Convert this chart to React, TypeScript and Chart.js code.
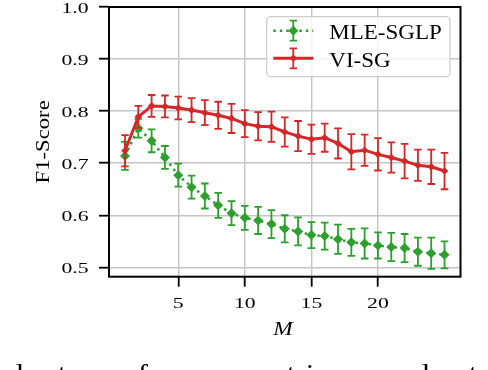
import React, { useEffect, useRef } from "react";
import { Chart, registerables } from "chart.js";

Chart.register(...registerables);

// ---- data ----
const xValues = [1, 2, 3, 4, 5, 6, 7, 8, 9, 10, 11, 12, 13, 14, 15, 16, 17, 18, 19, 20, 21, 22, 23, 24, 25];
const mleMean = [0.714, 0.767, 0.743, 0.711, 0.677, 0.654, 0.637, 0.619, 0.604, 0.595, 0.590, 0.583, 0.574, 0.569, 0.562, 0.560, 0.554, 0.548, 0.546, 0.542, 0.539, 0.537, 0.530, 0.527, 0.524];
const mleErr = [0.027, 0.018, 0.022, 0.022, 0.022, 0.022, 0.024, 0.024, 0.023, 0.023, 0.026, 0.027, 0.026, 0.027, 0.025, 0.026, 0.028, 0.026, 0.029, 0.025, 0.027, 0.027, 0.027, 0.030, 0.026];
const viMean = [0.724, 0.789, 0.810, 0.809, 0.806, 0.802, 0.797, 0.792, 0.786, 0.776, 0.771, 0.770, 0.760, 0.752, 0.746, 0.749, 0.738, 0.722, 0.725, 0.717, 0.711, 0.704, 0.696, 0.693, 0.685];
const viErr = [0.030, 0.021, 0.021, 0.021, 0.022, 0.023, 0.024, 0.026, 0.028, 0.026, 0.027, 0.029, 0.028, 0.029, 0.028, 0.027, 0.029, 0.034, 0.030, 0.031, 0.029, 0.033, 0.030, 0.033, 0.035];
const xTickValues = [5, 10, 15, 20];
const yTickValues = [0.5, 0.6, 0.7, 0.8, 0.9, 1.0];
const seriesLabels = ["MLE-SGLP", "VI-SG"];
const xAxisTitle = "M";
const yAxisTitle = "F1-Score";
const captionFragments = ["l", "t", "f", "t", "i", "l", "t"];
const captionFragmentX = [20, 62, 143, 291, 310, 426, 473];

const GREEN = "#2ca02c";
const RED = "#d62728";
const SERIF = '"Liberation Serif", "DejaVu Serif", serif';

function stretchText(ctx: CanvasRenderingContext2D, text: string, x: number, y: number, font: string, sx: number, align: CanvasTextAlign, rot = 0) {
  ctx.save();
  ctx.font = font;
  ctx.fillStyle = "#000";
  ctx.textAlign = align;
  ctx.textBaseline = "alphabetic";
  ctx.translate(x, y);
  if (rot) ctx.rotate(rot);
  ctx.scale(sx, 1);
  ctx.fillText(text, 0, 0);
  ctx.restore();
}

function diamond(ctx: CanvasRenderingContext2D, x: number, y: number, r: number, color: string) {
  ctx.beginPath();
  ctx.moveTo(x, y - r);
  ctx.lineTo(x + r, y);
  ctx.lineTo(x, y + r);
  ctx.lineTo(x - r, y);
  ctx.closePath();
  ctx.fillStyle = color;
  ctx.fill();
}

const errorBarPlugin = {
  id: "errorBars",
  beforeDatasetDraw(chart: any, args: any) {
    const ds = chart.data.datasets[args.index];
    const errs: number[] = ds.errors;
    if (!errs) return;
    const { ctx, scales } = chart;
    const xs = scales.x;
    const ys = scales.y;
    ctx.save();
    ctx.strokeStyle = ds.borderColor;
    ctx.lineWidth = 1.8;
    ctx.setLineDash([]);
    ctx.lineCap = "butt";
    const cap = 3.8;
    ds.data.forEach((p: any, i: number) => {
      const px = xs.getPixelForValue(p.x);
      const t = ys.getPixelForValue(p.y + errs[i]);
      const b = ys.getPixelForValue(p.y - errs[i]);
      ctx.beginPath();
      ctx.moveTo(px, t);
      ctx.lineTo(px, b);
      ctx.moveTo(px - cap, t);
      ctx.lineTo(px + cap, t);
      ctx.moveTo(px - cap, b);
      ctx.lineTo(px + cap, b);
      ctx.stroke();
    });
    ctx.restore();
  },
};

const decorPlugin = {
  id: "decor",
  afterDraw(chart: any) {
    const { ctx, chartArea, scales } = chart;
    const { left, top, right, bottom } = chartArea;
    // frame
    ctx.save();
    ctx.strokeStyle = "#000";
    ctx.lineWidth = 2;
    ctx.setLineDash([]);
    ctx.strokeRect(left, top, right - left, bottom - top);
    ctx.restore();

    // tick labels
    const tickFont = `14px ${SERIF}`;
    scales.y.ticks.forEach((t: any) => {
      const py = scales.y.getPixelForValue(t.value);
      stretchText(ctx, t.value.toFixed(1), 88.5, py + 5.7, tickFont, 1.55, "right");
    });
    scales.x.ticks.forEach((t: any) => {
      const px = scales.x.getPixelForValue(t.value);
      stretchText(ctx, String(t.value), px, 308, tickFont, 1.55, "center");
    });

    // axis titles
    stretchText(ctx, xAxisTitle, 283, 335, `italic 18px ${SERIF}`, 1.3, "center");
    stretchText(ctx, yAxisTitle, 48.5, (top + bottom) / 2, `18px ${SERIF}`, 1.26, "center", -Math.PI / 2);

    // legend
    ctx.save();
    const lx = 266.7, ly = 16.7, lw = 183.3, lh = 60, rr = 4;
    ctx.beginPath();
    ctx.moveTo(lx + rr, ly);
    ctx.arcTo(lx + lw, ly, lx + lw, ly + lh, rr);
    ctx.arcTo(lx + lw, ly + lh, lx, ly + lh, rr);
    ctx.arcTo(lx, ly + lh, lx, ly, rr);
    ctx.arcTo(lx, ly, lx + lw, ly, rr);
    ctx.closePath();
    ctx.fillStyle = "rgba(255,255,255,0.8)";
    ctx.fill();
    ctx.strokeStyle = "#cccccc";
    ctx.lineWidth = 1.2;
    ctx.stroke();

    const rows = [
      { y: 30.7, color: GREEN, dash: [2.5, 4], lw: 2.5, r: 5, label: seriesLabels[0], base: 39 },
      { y: 58.3, color: RED, dash: [], lw: 3, r: 3.8, label: seriesLabels[1], base: 66.7 },
    ];
    rows.forEach((row) => {
      ctx.strokeStyle = row.color;
      ctx.lineWidth = row.lw;
      ctx.setLineDash(row.dash);
      ctx.beginPath();
      ctx.moveTo(273.3, row.y);
      ctx.lineTo(313.3, row.y);
      ctx.stroke();
      ctx.setLineDash([]);
      ctx.lineWidth = 1.8;
      ctx.beginPath();
      ctx.moveTo(293.3, row.y - 10);
      ctx.lineTo(293.3, row.y + 10);
      ctx.moveTo(289.6, row.y - 10);
      ctx.lineTo(297, row.y - 10);
      ctx.moveTo(289.6, row.y + 10);
      ctx.lineTo(297, row.y + 10);
      ctx.stroke();
      diamond(ctx, 293.3, row.y, row.r, row.color);
      stretchText(ctx, row.label, 329.3, row.base, `20px ${SERIF}`, 1.15, "left");
    });
    ctx.restore();

    // cut-off caption line below the figure
    captionFragments.forEach((s, i) => {
      stretchText(ctx, s, captionFragmentX[i], 383, `28px ${SERIF}`, 1.1, "center");
    });
  },
};

export default function App() {
  const ref = useRef<HTMLCanvasElement | null>(null);
  useEffect(() => {
    if (!ref.current) return;
    const chart = new Chart(ref.current, {
      type: "line",
      data: {
        datasets: [
          {
            label: seriesLabels[0],
            data: xValues.map((x, i) => ({ x, y: mleMean[i] })),
            errors: mleErr,
            borderColor: GREEN,
            backgroundColor: GREEN,
            borderWidth: 2.5,
            borderDash: [2.5, 4],
            pointStyle: "rectRot",
            pointRadius: 5,
            pointBorderWidth: 0,
            pointBackgroundColor: GREEN,
            tension: 0,
            order: 1,
          } as any,
          {
            label: seriesLabels[1],
            data: xValues.map((x, i) => ({ x, y: viMean[i] })),
            errors: viErr,
            borderColor: RED,
            backgroundColor: RED,
            borderWidth: 3,
            pointStyle: "rectRot",
            pointRadius: 3.8,
            pointBorderWidth: 0,
            pointBackgroundColor: RED,
            tension: 0,
            order: 0,
          } as any,
        ],
      },
      options: {
        animation: false,
        responsive: false,
        devicePixelRatio: 1,
        layout: { padding: { top: 7, right: 27.5, left: 0, bottom: 0 } },
        plugins: { legend: { display: false }, tooltip: { enabled: false } },
        scales: {
          x: {
            type: "linear",
            min: -0.2,
            max: 26.2,
            afterBuildTicks: (s: any) => {
              s.ticks = xTickValues.map((v) => ({ value: v }));
            },
            afterFit: (s: any) => {
              s.height = 93.3;
            },
            ticks: { display: false },
            border: { display: false },
            grid: { color: "#c4c4c4", lineWidth: 1.4, tickLength: 10, tickColor: "#000", tickWidth: 1.8, drawTicks: true },
          },
          y: {
            type: "linear",
            min: 0.482,
            max: 1.0,
            afterBuildTicks: (s: any) => {
              s.ticks = yTickValues.map((v) => ({ value: v }));
            },
            afterFit: (s: any) => {
              s.width = 109;
            },
            ticks: { display: false },
            border: { display: false },
            grid: { color: "#c4c4c4", lineWidth: 1.4, tickLength: 10, tickColor: "#000", tickWidth: 1.8, drawTicks: true },
          },
        },
      } as any,
      plugins: [errorBarPlugin, decorPlugin],
    });
    return () => chart.destroy();
  }, []);
  return (
    <div style={{ position: "absolute", left: 0, top: 0, width: 488, height: 370, background: "#fff" }}>
      <canvas ref={ref} width={488} height={370} style={{ display: "block" }} />
    </div>
  );
}
